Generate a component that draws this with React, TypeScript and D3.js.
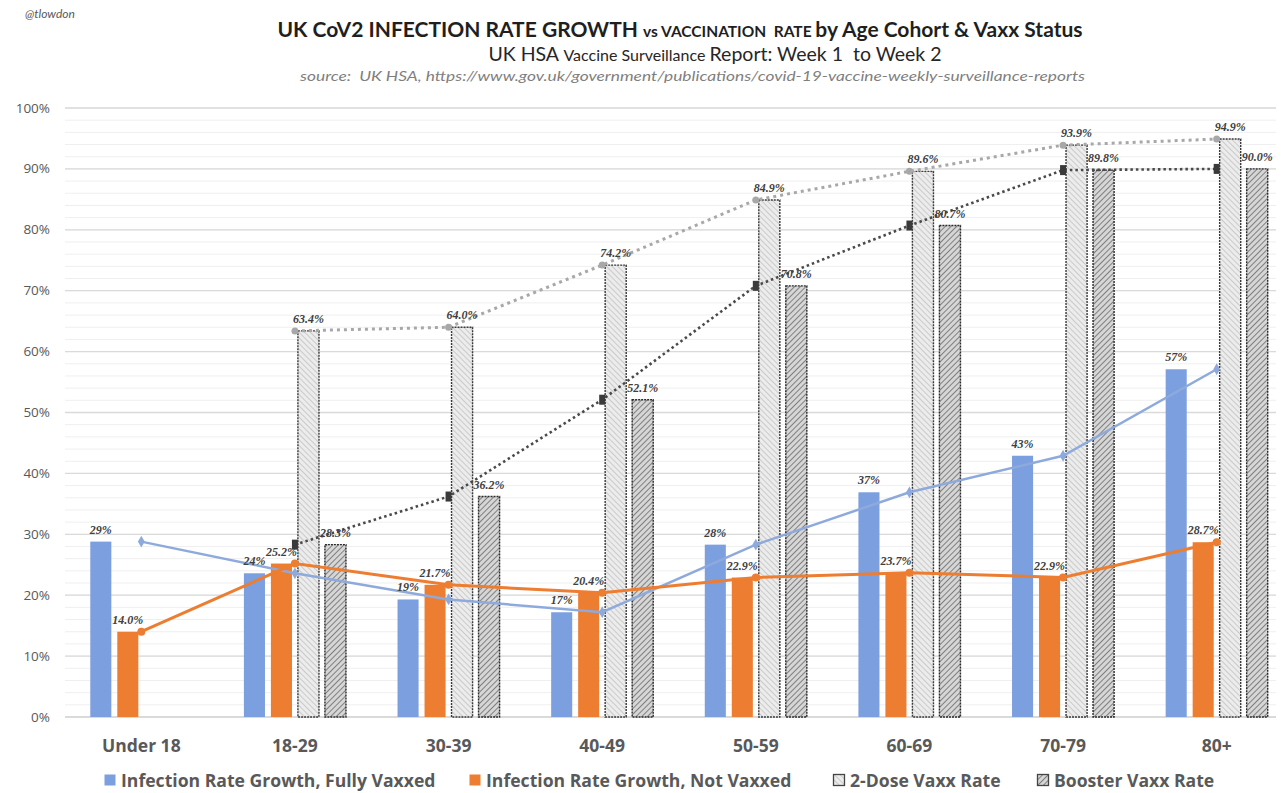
import React from "react";
import * as d3 from "d3";

const categories = ["Under 18", "18-29", "30-39", "40-49", "50-59", "60-69", "70-79", "80+"];
const fullyVaxxed = [0.288, 0.236, 0.193, 0.172, 0.283, 0.369, 0.429, 0.571];
const notVaxxed = [0.14, 0.252, 0.217, 0.204, 0.229, 0.237, 0.229, 0.287];
const twoDose: (number | null)[] = [null, 0.634, 0.64, 0.742, 0.849, 0.896, 0.939, 0.949];
const booster: (number | null)[] = [null, 0.283, 0.362, 0.521, 0.708, 0.807, 0.898, 0.9];
const yTicks = [0, 0.1, 0.2, 0.3, 0.4, 0.5, 0.6, 0.7, 0.8, 0.9, 1.0];
const seriesKeys = ["fully", "not", "two", "boost"];
const legendLabels = [
  "Infection Rate Growth, Fully Vaxxed",
  "Infection Rate Growth, Not Vaxxed",
  "2-Dose Vaxx Rate",
  "Booster Vaxx Rate",
];

const W = 1283;
const H = 793;
const FONT = "Lato, 'Open Sans', sans-serif";
const WIDE = "'Open Sans', sans-serif";
const BLUE_BAR = "#7c9fdf";
const BLUE_LINE = "#8eaadc";
const ORANGE = "#ed7d31";

export default function App() {
  const y = d3.scaleLinear().domain([0, 1]).range([717, 108]);
  const x = d3.scaleBand<string>().domain(categories).range([64.5, 1293.5]).padding(0);
  const cx = (c: string) => (x(c) as number) + x.bandwidth() / 2;
  const inner = d3
    .scaleBand<string>()
    .domain(seriesKeys)
    .range([-54, 54])
    .paddingInner(0.22)
    .paddingOuter(0.11);
  const bw = inner.bandwidth();
  const minorTicks = d3.range(0, 101, 2).map((v) => v / 100);
  const pct0 = d3.format(".0%");
  const pct1 = d3.format(".1%");

  const lineGen = d3
    .line<[number, number | null]>()
    .defined((d) => d[1] !== null)
    .x((d) => d[0])
    .y((d) => y(d[1] as number));

  const pts = (vals: (number | null)[]) =>
    vals.map((v, i) => [cx(categories[i]), v] as [number, number | null]);

  const barSeries = [
    { key: "fully", vals: fullyVaxxed as (number | null)[], fill: BLUE_BAR, stroke: "none", fmt: pct0 },
    { key: "not", vals: notVaxxed as (number | null)[], fill: ORANGE, stroke: "none", fmt: pct1 },
    { key: "two", vals: twoDose, fill: "url(#hatchLight)", stroke: "#3a3a3a", fmt: pct1 },
    { key: "boost", vals: booster, fill: "url(#hatchDark)", stroke: "#2a2a2a", fmt: pct1 },
  ];

  const diamond = d3.symbol(d3.symbolDiamond, 40)() as string;

  const legendX = [104, 469, 833, 1037];

  return (
    <svg
      width={W}
      height={H}
      style={{ position: "absolute", left: 0, top: 0, background: "#fff" }}
      fontFamily={FONT}
    >
      <defs>
        <pattern id="hatchLight" patternUnits="userSpaceOnUse" width="4" height="4" patternTransform="rotate(-45)">
          <rect width="4" height="4" fill="#ececec" />
          <line x1="0" y1="0" x2="0" y2="4" stroke="#b4b4b4" strokeWidth="1.2" />
        </pattern>
        <pattern id="hatchDark" patternUnits="userSpaceOnUse" width="4" height="4" patternTransform="rotate(45)">
          <rect width="4" height="4" fill="#d6d6d6" />
          <line x1="0" y1="0" x2="0" y2="4" stroke="#5a5a5a" strokeWidth="1.4" />
        </pattern>
      </defs>

      {/* header */}
      <text x={25} y={18} fontSize={12} fontStyle="italic" fill="#595959">@tlowdon</text>
      <text x={680} y={37} textAnchor="middle" fontWeight="bold" fill="#1f1f1f">
        <tspan fontSize={21}>UK CoV2 INFECTION RATE GROWTH </tspan>
        <tspan fontSize={15.5}>{"vs VACCINATION\u00a0 RATE "}</tspan>
        <tspan fontSize={21}>by Age Cohort &amp; Vaxx Status</tspan>
      </text>
      <text x={715} y={61} textAnchor="middle" fill="#262626">
        <tspan fontSize={19.5}>UK HSA </tspan>
        <tspan fontSize={16}>Vaccine Surveillance </tspan>
        <tspan fontSize={19.5}>{"Report: Week 1\u00a0 to Week 2"}</tspan>
      </text>
      <text
        x={300}
        y={81}
        fontSize={13.5}
        fontStyle="italic"
        fill="#7f7f7f"
        textLength={785}
        lengthAdjust="spacingAndGlyphs"
      >
        {"source:\u00a0 UK HSA, https://www.gov.uk/government/publications/covid-19-vaccine-weekly-surveillance-reports"}
      </text>

      {/* grid */}
      {minorTicks.map((t) => (
        <line key={"m" + t} x1={65} x2={1276} y1={y(t)} y2={y(t)} stroke="#efefef" strokeWidth={1} />
      ))}
      {yTicks.map((t) => (
        <line key={"g" + t} x1={65} x2={1276} y1={y(t)} y2={y(t)} stroke={t === 0 ? "#d0d0d0" : "#dadada"} strokeWidth={1.3} />
      ))}
      {yTicks.map((t) => (
        <text key={"yl" + t} x={50} y={y(t) + 4.5} textAnchor="end" fontSize={13.5} fill="#595959" fontFamily={WIDE}>
          {pct0(t)}
        </text>
      ))}

      {/* bars */}
      {barSeries.map((s) =>
        s.vals.map((v, i) =>
          v === null ? null : (
            <rect
              key={s.key + i}
              x={cx(categories[i]) + (inner(s.key) as number)}
              y={y(v)}
              width={bw}
              height={y(0) - y(v)}
              fill={s.fill}
              stroke={s.stroke}
              strokeWidth={s.stroke === "none" ? 0 : 1.4}
              strokeDasharray={s.stroke === "none" ? undefined : "2,1"}
            />
          )
        )
      )}

      {/* lines */}
      <path d={lineGen(pts(twoDose)) as string} fill="none" stroke="#a8a8a8" strokeWidth={3} strokeDasharray="3,4" />
      <path d={lineGen(pts(booster)) as string} fill="none" stroke="#4a4a4a" strokeWidth={2.6} strokeDasharray="2.5,3" />
      <path d={lineGen(pts(fullyVaxxed)) as string} fill="none" stroke={BLUE_LINE} strokeWidth={2.5} />
      <path d={lineGen(pts(notVaxxed)) as string} fill="none" stroke={ORANGE} strokeWidth={3} />

      {twoDose.map((v, i) =>
        v === null ? null : (
          <circle key={"tm" + i} cx={cx(categories[i])} cy={y(v)} r={3.5} fill="#a8a8a8" />
        )
      )}
      {booster.map((v, i) =>
        v === null ? null : (
          <rect key={"bm" + i} x={cx(categories[i]) - 3} y={y(v) - 5} width={6} height={10} fill="#3a3a3a" />
        )
      )}
      {fullyVaxxed.map((v, i) => (
        <path key={"fm" + i} d={diamond} transform={`translate(${cx(categories[i])},${y(v)})`} fill={BLUE_LINE} />
      ))}
      {notVaxxed.map((v, i) => (
        <circle key={"nm" + i} cx={cx(categories[i])} cy={y(v)} r={4} fill={ORANGE} />
      ))}

      {/* data labels */}
      {barSeries.map((s) =>
        s.vals.map((v, i) =>
          v === null ? null : (
            <text
              key={"lb" + s.key + i}
              x={cx(categories[i]) + (inner(s.key) as number) + bw / 2}
              y={y(v) - 8}
              textAnchor="middle"
              fontSize={12}
              fontStyle="italic"
              fontWeight="bold"
              fill="#404040"
              fontFamily="'Liberation Serif', serif"
            >
              {s.fmt(v)}
            </text>
          )
        )
      )}

      {/* category axis */}
      {categories.map((c) => (
        <text key={"c" + c} x={cx(c)} y={752} textAnchor="middle" fontSize={17.5} fontWeight="bold" fill="#595959" fontFamily={WIDE}>
          {c}
        </text>
      ))}

      {/* legend */}
      {legendLabels.map((l, i) => (
        <g key={"lg" + i} transform={`translate(${legendX[i]},774)`}>
          <rect
            x={0.5}
            y={0.5}
            width={11}
            height={11}
            fill={i === 0 ? BLUE_BAR : i === 1 ? ORANGE : i === 2 ? "url(#hatchLight)" : "url(#hatchDark)"}
            stroke={i >= 2 ? "#444" : "none"}
            strokeWidth={1.3}
          />
          <text x={17} y={12.5} fontSize={17.6} fontWeight="bold" fill="#595959" fontFamily={WIDE}>
            {l}
          </text>
        </g>
      ))}
    </svg>
  );
}
